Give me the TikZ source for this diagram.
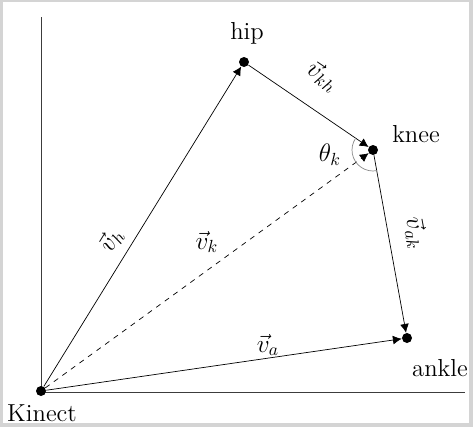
\documentclass[tikz,border=0pt]{standalone}
\usepackage{amsmath}
\usepackage{tikz}
\usetikzlibrary{arrows.meta}
\definecolor{framec}{HTML}{D4D4D4}
\definecolor{axisc}{HTML}{3C3C3C}
\definecolor{arcc}{HTML}{8A8A8A}

\begin{document}
\begin{tikzpicture}[x=0.02cm, y=0.02cm,
    joint/.style={circle, fill=black, inner sep=0pt, minimum size=0.2cm},
    vec/.style={-{Latex[length=5pt, width=5pt]}, thin},
    lbl/.style={font=\fontsize{14}{16}\selectfont}]
    \fill[framec] (0,0) rectangle (473,-427);
    \fill[white] (3,-2) rectangle (469,-423);
    \useasboundingbox (0,0) rectangle (473,-427);
    \draw[axisc] (41,-17) -- (41,-392) -- (465,-392);
    \node[joint] (kinect) at (41,-391) {};
    \node[joint] (hip) at (244,-62) {};
    \node[joint] (knee) at (373,-150) {};
    \node[joint] (ankle) at (407,-338) {};
    \draw[vec] (kinect) -- (hip);
    \draw[vec] (hip) -- (knee);
    \draw[vec] (knee) -- (ankle);
    \draw[vec] (kinect) -- (ankle);
    \draw[vec, dashed] (kinect) -- (knee);
    \draw[arcc] ([shift={(145.7:0.42cm)}]knee.center) arc[start angle=145.7, end angle=280.3, radius=0.42cm];
    \node[lbl] (hiplbl) at (247,-33) {hip};
    \node[lbl] (kneelbl) at (416,-134) {knee};
    \node[lbl] (anklelbl) at (440,-368) {ankle};
    \node[lbl] (kinectlbl) at (42,-413) {Kinect};
    \node[lbl, rotate=58.3] (vh) at (111,-240) {$\vec{v}_h$};
    \node[lbl] (vk) at (207,-242) {$\vec{v}_k$};
    \node[lbl, rotate=-34.3] (vkh) at (323,-76) {$\vec{v}_{kh}$};
    \node[lbl, rotate=-79.7] (vak) at (416,-233) {$\vec{v}_{ak}$};
    \node[lbl] (va) at (268,-345) {$\vec{v}_a$};
    \node[lbl] (thk) at (330,-155) {$\theta_k$};
  \end{tikzpicture}
\end{document}
